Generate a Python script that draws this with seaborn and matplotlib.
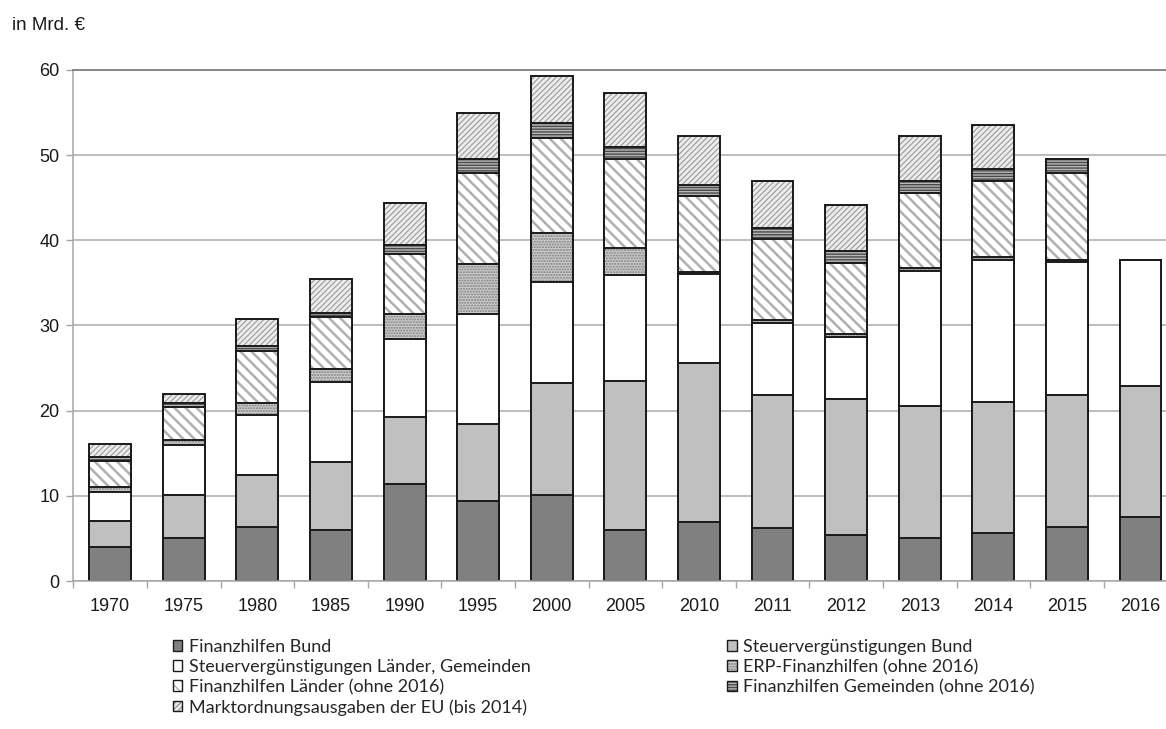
import numpy as np
import matplotlib
matplotlib.use("Agg")
import matplotlib.pyplot as plt
import seaborn as sns
from matplotlib.patches import Patch

# Subventionen nach Art, in Mrd. Euro
years = ["1970", "1975", "1980", "1985", "1990", "1995", "2000", "2005",
         "2010", "2011", "2012", "2013", "2014", "2015", "2016"]
finanzhilfen_bund = [4.0, 5.1, 6.4, 6.0, 11.4, 9.35, 10.1, 6.0,
                     6.95, 6.2, 5.45, 5.05, 5.65, 6.35, 7.5]
steuerverg_bund = [3.1, 4.95, 6.05, 8.0, 7.9, 9.1, 13.1, 17.5,
                   18.7, 15.6, 15.95, 15.45, 15.35, 15.45, 15.4]
steuerverg_laender_gem = [3.4, 5.9, 7.1, 9.4, 9.1, 12.85, 11.85, 12.4,
                          10.35, 8.45, 7.2, 15.85, 16.7, 15.6, 14.8]
erp_finanzhilfen = [0.5, 0.6, 1.4, 1.5, 2.9, 5.9, 5.8, 3.25,
                    0.3, 0.4, 0.45, 0.4, 0.4, 0.3, 0.0]
finanzhilfen_laender = [3.1, 3.85, 6.1, 6.05, 7.05, 10.75, 11.2, 10.35,
                        8.85, 9.45, 8.25, 8.75, 8.85, 10.25, 0.0]
finanzhilfen_gemeinden = [0.5, 0.5, 0.55, 0.55, 1.15, 1.55, 1.7, 1.4,
                          1.35, 1.35, 1.4, 1.45, 1.4, 1.55, 0.0]
eu_marktordnung = [1.45, 1.1, 3.2, 4.0, 4.85, 5.5, 5.55, 6.45,
                   5.75, 5.55, 5.5, 5.3, 5.15, 0.0, 0.0]

labels = ["Finanzhilfen Bund",
          "Steuervergünstigungen Bund",
          "Steuervergünstigungen Länder, Gemeinden",
          "ERP-Finanzhilfen (ohne 2016)",
          "Finanzhilfen Länder (ohne 2016)",
          "Finanzhilfen Gemeinden (ohne 2016)",
          "Marktordnungsausgaben der EU (bis 2014)"]
series = [finanzhilfen_bund, steuerverg_bund, steuerverg_laender_gem,
          erp_finanzhilfen, finanzhilfen_laender, finanzhilfen_gemeinden,
          eu_marktordnung]

# fill colour, hatch, hatch colour, hatch line width
styles = [
    ("#808080", None, "#808080", 1.0),
    ("#c0c0c0", None, "#c0c0c0", 1.0),
    ("#ffffff", None, "#ffffff", 1.0),
    ("#cccccc", "......", "#7c7c7c", 1.0),
    ("#ffffff", "\\\\\\", "#b0b0b0", 1.8),
    ("#b8b8b8", "------", "#4a4a4a", 1.0),
    ("#ececec", "//////", "#9a9a9a", 0.8),
]

sns.set_style("white")
plt.rcParams["font.family"] = ["Liberation Sans", "DejaVu Sans"]

fig = plt.figure(figsize=(11.66, 7.29), dpi=100)
ax = fig.add_axes([0.0629, 0.2030, 0.9468, 0.7010])

cum = np.cumsum(np.array(series, dtype=float), axis=0)
bar_w = 0.57

# stacked bars: draw cumulative totals from the top layer downwards
for i in reversed(range(len(series))):
    face, hatch, hcol, hlw = styles[i]
    with plt.rc_context({"hatch.linewidth": hlw}):
        sns.barplot(x=years, y=cum[i], order=years, color=face, saturation=1,
                    hatch=hatch, edgecolor=hcol, linewidth=0, width=bar_w,
                    errorbar=None, ax=ax)
        for p in ax.patches[-len(years):]:
            if hasattr(p, "set_hatch_linewidth"):
                p.set_hatch_linewidth(hlw)
    sns.barplot(x=years, y=cum[i], order=years, fill=False, color="#1a1a1a",
                linewidth=1.4, width=bar_w, errorbar=None, ax=ax)

ax.set_xlim(-0.5, len(years) - 0.5)
ax.set_ylim(0, 60)
ax.set_yticks(range(0, 61, 10))
ax.set_xlabel("")
ax.set_ylabel("")
ax.yaxis.grid(True, color="#ababab", linewidth=1.1)
ax.xaxis.grid(False)
ax.set_axisbelow(True)

for side in ("left", "bottom"):
    ax.spines[side].set_color("#a6a6a6")
    ax.spines[side].set_linewidth(1.1)
ax.spines["top"].set_color("#808080")
ax.spines["top"].set_linewidth(1.3)
ax.spines["right"].set_visible(False)

ax.tick_params(axis="y", which="major", left=True, length=5, width=1,
               color="#a6a6a6", labelsize=13, pad=5, labelcolor="#1a1a1a")
ax.tick_params(axis="x", which="major", bottom=False, length=0,
               labelsize=13, pad=12, labelcolor="#1a1a1a")
ax.set_xticks(np.arange(-0.5, len(years), 1.0), minor=True)
ax.tick_params(axis="x", which="minor", bottom=True, length=5, width=1,
               color="#a6a6a6")

fig.text(12 / 1166, 1 - 30 / 729, "in Mrd. €", fontsize=13.5,
         color="#1a1a1a", va="baseline", ha="left")

# legend: column-wise order so that rows read left to right
def handle(i):
    face, hatch, hcol, hlw = styles[i]
    fill_p = Patch(facecolor=face, hatch=hatch, edgecolor=hcol, linewidth=0)
    edge_p = Patch(facecolor="none", edgecolor="#1a1a1a", linewidth=1.0)
    return (fill_p, edge_p)

order = [0, 2, 4, 6, 1, 3, 5]
fig.legend([handle(i) for i in order], [labels[i] for i in order],
           ncol=2, loc="upper left", bbox_to_anchor=(173 / 1166, 1 - 639 / 729),
           frameon=False, prop={"family": "Lato", "size": 13},
           handlelength=0.52, handleheight=0.52, handletextpad=0.35,
           labelspacing=0.22, columnspacing=10.9, borderpad=0,
           borderaxespad=0)

fig.savefig("out.png", dpi=100)
